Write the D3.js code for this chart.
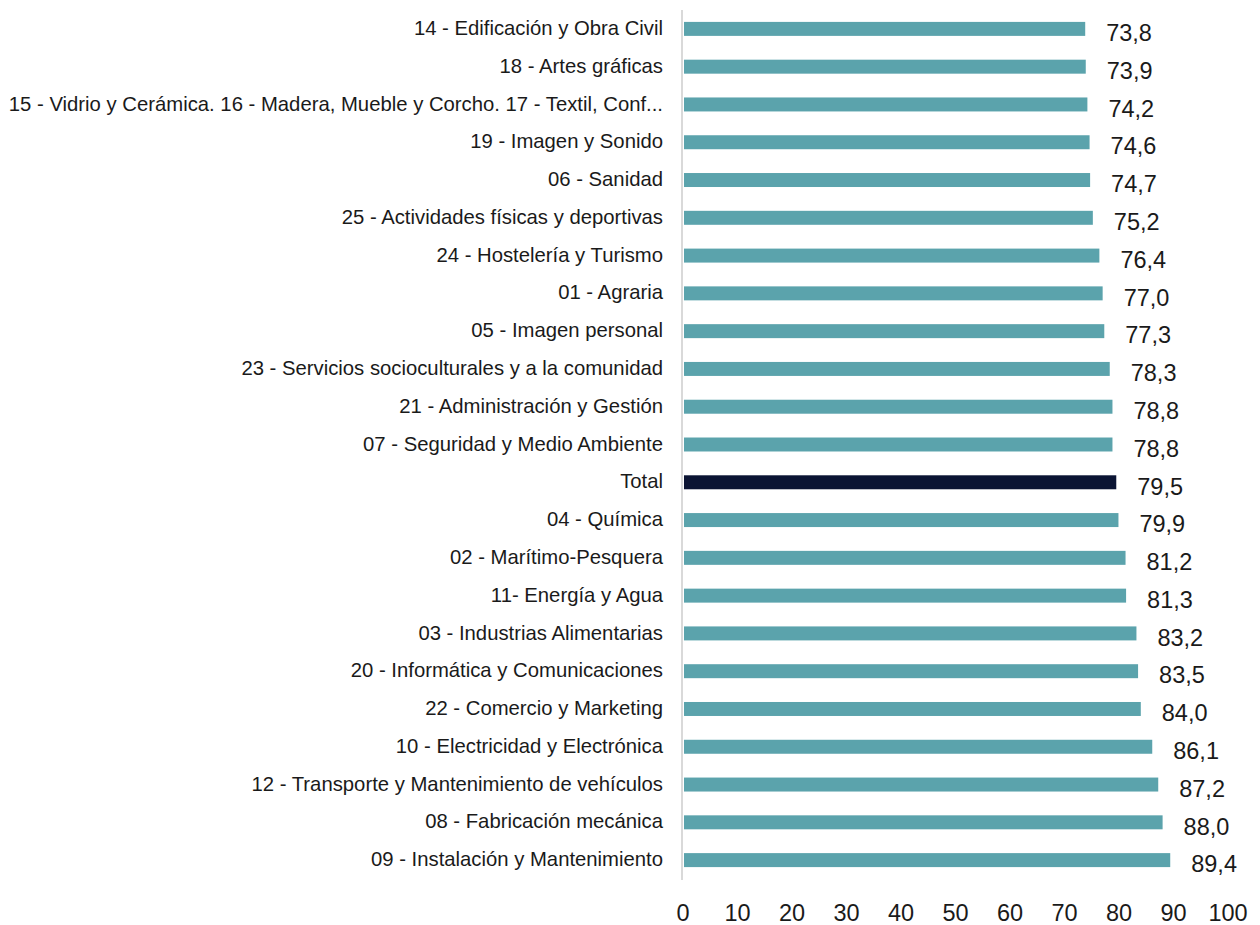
<!DOCTYPE html>
<html><head><meta charset="utf-8">
<script src="https://cdn.jsdelivr.net/npm/d3@7"></script>
<style>body{margin:0;background:#fff;}svg{display:block;font-family:"Liberation Sans",Arial,sans-serif;}</style>
</head><body>
<svg id="c" width="1260" height="925"></svg>
<script>
const categories = [
"14 - Edificación y Obra Civil",
"18 - Artes gráficas",
"15 - Vidrio y Cerámica. 16 - Madera, Mueble y Corcho. 17 - Textil, Conf...",
"19 - Imagen y Sonido",
"06 - Sanidad",
"25 - Actividades físicas y deportivas",
"24 - Hostelería y Turismo",
"01 - Agraria",
"05 - Imagen personal",
"23 - Servicios socioculturales y a la comunidad",
"21 - Administración y Gestión",
"07 - Seguridad y Medio Ambiente",
"Total",
"04 - Química",
"02 - Marítimo-Pesquera",
"11- Energía y Agua",
"03 - Industrias Alimentarias",
"20 - Informática y Comunicaciones",
"22 - Comercio y Marketing",
"10 - Electricidad y Electrónica",
"12 - Transporte y Mantenimiento de vehículos",
"08 - Fabricación mecánica",
"09 - Instalación y Mantenimiento"];
const values = [73.8,73.9,74.2,74.6,74.7,75.2,76.4,77.0,77.3,78.3,78.8,78.8,79.5,79.9,81.2,81.3,83.2,83.5,84.0,86.1,87.2,88.0,89.4];
const ticks = [0,10,20,30,40,50,60,70,80,90,100];

const svg = d3.select("#c");
const x = d3.scaleLinear().domain([0,100]).range([683,1228]);
const y = d3.scaleBand().domain(categories).range([10,879]).paddingInner(0.63).paddingOuter(0.315);
const fmt = v => d3.format(".1f")(v).replace(".", ",");

svg.selectAll("rect.bar").data(values).join("rect")
  .attr("x", x(0)+1).attr("y",(d,i)=>y(categories[i]))
  .attr("width", d=>x(d)-x(0)-1).attr("height", y.bandwidth())
  .attr("fill",(d,i)=>categories[i]==="Total"?"#0b1433":"#5ba3ac");

svg.append("line").attr("x1",x(0)-1).attr("x2",x(0)-1).attr("y1",10).attr("y2",880)
  .attr("stroke","#d9d9d9").attr("stroke-width",2);

svg.selectAll("text.cat").data(categories).join("text")
  .attr("x",663).attr("y",d=>y(d)+y.bandwidth()/2 - 1)
  .attr("dy","0.35em").attr("text-anchor","end")
  .attr("font-size",20.3).attr("fill","#1a1a1a").text(d=>d);

svg.selectAll("text.val").data(values).join("text")
  .attr("x",d=>x(d)+21).attr("y",(d,i)=>y(categories[i])+y.bandwidth()/2+4)
  .attr("dy","0.35em").attr("font-size",23.5).attr("fill","#1a1a1a").text(fmt);

svg.selectAll("text.tick").data(ticks).join("text")
  .attr("x",d=>x(d)).attr("y",913).attr("dy","0.35em").attr("text-anchor","middle")
  .attr("font-size",23.5).attr("fill","#1a1a1a").text(d=>d);
</script>
</body></html>
